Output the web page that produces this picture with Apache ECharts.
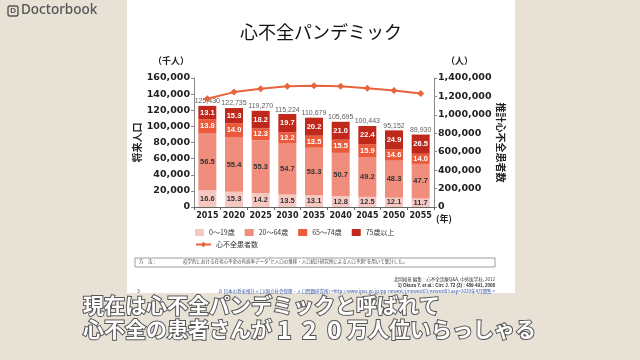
<!DOCTYPE html>
<html><head><meta charset="utf-8">
<script src="https://cdn.jsdelivr.net/npm/echarts@6/dist/echarts.min.js"></script>
<style>html,body{margin:0;padding:0;background:#e7e1d6}#c{width:640px;height:360px}</style>
</head><body><div id="c"></div>
<script>
const years = ['2015','2020','2025','2030','2035','2040','2045','2050','2055'];
const totals = [125430,122735,119270,115224,110679,105695,100443,95152,89930];
const pct0_19 = [16.6,15.3,14.2,13.5,13.1,12.8,12.5,12.1,11.7];
const pct20_64 = [56.5,55.4,55.3,54.7,53.3,50.7,49.2,48.3,47.7];
const pct65_74 = [13.8,14.0,12.3,12.2,13.5,15.5,15.9,14.6,14.0];
const pct75 = [13.1,15.3,18.2,19.7,20.2,21.0,22.4,24.9,26.5];
const hfPatients = [1175000,1247000,1283000,1311000,1316000,1311000,1290000,1265000,1232000];
const leftTicks = {min:0,max:160000,interval:20000};
const rightTicks = {min:0,max:1400000,interval:200000};
const groupNames = ['0～19歳','20～64歳','65～74歳','75歳以上'];
const lineName = '心不全患者数';

const fmt = v => Number(v).toLocaleString('en-US');
const colors = ['#f6c8c2','#f08d7d','#ec5a3c','#c1281c'];
const labelColors = ['#333','#333','#fff','#fff'];
const pcts = [pct0_19,pct20_64,pct65_74,pct75];

const chart = echarts.init(document.getElementById('c'));
const barSeries = pcts.map((p,i)=>({
  name: groupNames[i], type:'bar', stack:'pop', barWidth:18,
  yAxisIndex:0,
  itemStyle:{color:colors[i]},
  data: p.map((v,j)=>({value: totals[j]*v/100, pct: v})),
  label:{show:true, position:'inside', formatter: prm => prm.data.pct.toFixed(1),
    color: labelColors[i], fontFamily:'Liberation Sans', fontWeight:'bold', fontSize:7.5}
}));
const cjk = '"Noto Sans CJK JP"';
const subFont = 'bold 21px "Noto Sans CJK JP"';
const digFont = 'bold 25px "Noto Sans CJK JP"';
chart.setOption({
  backgroundColor:'#e7e1d6',
  animation:false,
  grid:{left:194, right:206, top:78, height:129},
  legend:[
    {data: groupNames, left:190, top:224, itemWidth:9, itemHeight:7, itemGap:10,
     icon:'rect', textStyle:{fontSize:7, color:'#333', fontFamily:cjk}},
    {data: [lineName], left:190, top:236, itemWidth:15, itemHeight:7,
     textStyle:{fontSize:7, color:'#333', fontFamily:cjk}}
  ],
  xAxis:{type:'category', data:years,
    axisLine:{lineStyle:{color:'#666'}}, axisTick:{show:true, length:3, lineStyle:{color:'#666'}},
    axisLabel:{interval:0, color:'#222', fontFamily:'DejaVu Sans', fontWeight:'bold', fontSize:8, margin:5}},
  yAxis:[
    {type:'value', ...leftTicks, position:'left',
     name:'将来人口', nameLocation:'middle', nameRotate:90, nameGap:52,
     nameTextStyle:{fontFamily:cjk, fontWeight:'bold', fontSize:10, color:'#222'},
     axisLine:{show:true, lineStyle:{color:'#888'}}, axisTick:{show:true, length:3, lineStyle:{color:'#888'}},
     splitLine:{show:false},
     axisLabel:{formatter: fmt, color:'#222', fontFamily:'DejaVu Sans', fontWeight:'bold', fontSize:9.5, margin:4}},
    {type:'value', ...rightTicks, position:'right',
     name:'推計心不全患者数', nameLocation:'middle', nameRotate:-90, nameGap:62,
     nameTextStyle:{fontFamily:cjk, fontWeight:'bold', fontSize:10, color:'#222'},
     axisLine:{show:true, lineStyle:{color:'#888'}}, axisTick:{show:true, length:3, lineStyle:{color:'#888'}},
     splitLine:{show:false},
     axisLabel:{formatter: fmt, color:'#222', fontFamily:'DejaVu Sans', fontWeight:'bold', fontSize:9.5, margin:4}}
  ],
  series:[...barSeries,
    {name:'totals', type:'scatter', yAxisIndex:0, symbolSize:0, data: totals, silent:true,
     label:{show:true, position:'top', distance:1, formatter: p=>fmt(p.value), color:'#333',
       fontFamily:'Liberation Sans', fontSize:7}},
    {name: lineName, type:'line', yAxisIndex:1, data: hfPatients, symbol:'diamond', symbolSize:7,
     lineStyle:{color:'#e8643c', width:2}, itemStyle:{color:'#e8643c'}}
  ],
  graphic:[
    {type:'rect', z:-10, shape:{x:127,y:0,width:388,height:293}, style:{fill:'#fff'}},
    {type:'text', x:321, y:32, z:5, style:{text:'心不全パンデミック', fill:'#111', font:'400 18px "Noto Sans CJK JP"', align:'center', verticalAlign:'middle'}},
    {type:'text', left:153, top:56, style:{text:'（千人）', fill:'#222', font:'bold 9px "Noto Sans CJK JP"'}},
    {type:'text', left:446, top:56, style:{text:'（人）', fill:'#222', font:'bold 9px "Noto Sans CJK JP"'}},
    {type:'text', left:436, top:214, style:{text:'(年)', fill:'#222', font:'bold 9px "Noto Sans CJK JP"'}},
    {type:'rect', shape:{x:135,y:258,width:360,height:9}, style:{fill:'#fff', stroke:'#777', lineWidth:0.7}},
    {type:'text', left:139, top:259.5, style:{text:'方　法：', fill:'#444', font:'4.5px "Noto Sans CJK JP"'}},
    {type:'text', left:183, top:259.5, style:{text:'疫学的における在宅心不全の有病率データ¹と人口の推移・人口統計研究所による人口予測²を用いて集計した。', fill:'#444', font:'4.5px "Noto Sans CJK JP"'}},
    {type:'text', right:145, top:277, style:{text:'北岡裕章 編集：心不全診療Q&A, 中外医学社, 2012', fill:'#333', font:'4.5px "Noto Sans CJK JP"'}},
    {type:'text', right:145, top:283, style:{text:'1) Okura Y. et al.: Circ J. 72 (3) : 489-491, 2008', fill:'#333', font:'bold 4.5px "Liberation Sans"'}},
    {type:'text', right:145, top:289, style:{text:'2) 日本の将来推計人口(国立社会保障・人口問題研究所) <http://www.ipss.go.jp/pp-newest/j/newest03/newest03.asp>2020年4月閲覧 >', fill:'#3050a0', font:'4.5px "Noto Sans CJK JP"'}},
    {type:'text', left:137, top:289, style:{text:'3', fill:'#555', font:'5px "Liberation Sans"'}},
    {type:'rect', shape:{x:8,y:6,width:10,height:10,r:2}, style:{fill:'none', stroke:'#555', lineWidth:1.4}},
    {type:'text', left:10.3, top:7, style:{text:'D', fill:'#555', font:'bold 8px "Liberation Sans"'}},
    {type:'text', left:21, top:3, style:{text:'Doctorbook', fill:'#555', font:'500 13.5px "Noto Sans"'}},
    {type:'text', left:82, top:294, style:{text:'現在は心不全パンデミックと呼ばれて', fill:'#fff', stroke:'#555', lineWidth:2, font:subFont}},
    {type:'text', left:82, top:316, style:{
      text:'心不全の患者さんが{d|1}{d|2}{d|0}万人位いらっしゃる', fill:'#fff', stroke:'#555', lineWidth:2, font:subFont,
      rich:{d:{width:25, align:'center', font:digFont, fill:'#fff', stroke:'#555', lineWidth:2}}}}
  ]
});
</script></body></html>
